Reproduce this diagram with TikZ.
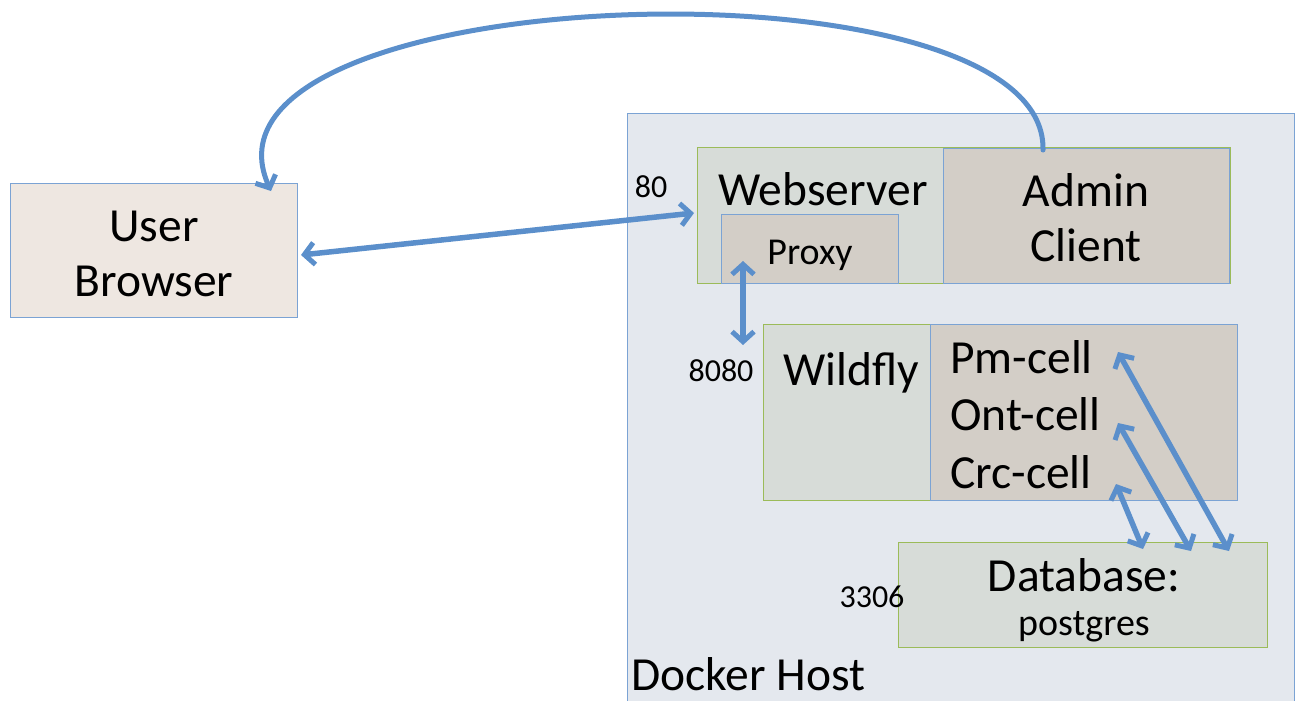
\documentclass[tikz,border=0pt]{standalone}
\usepackage{fontspec}
\setmainfont{Carlito}
\usetikzlibrary{arrows.meta,calc}
\definecolor{browserfill}{HTML}{EEE7E1}
\definecolor{dockerfill}{HTML}{E4E8EE}
\definecolor{greenfill}{HTML}{D7DCD8}
\definecolor{taupefill}{HTML}{D3CEC7}
\definecolor{blueline}{HTML}{7BA3D4}
\definecolor{greenline}{HTML}{9BBB59}
\definecolor{arrowblue}{HTML}{5B8FCB}
\tikzset{
  bluebox/.style={draw=blueline, line width=1pt},
  greenbox/.style={draw=greenline, line width=1pt, fill=greenfill},
  tip/.tip={Straight Barb[length=10pt,width=22pt,line width=5pt]},
  link/.style={draw=arrowblue, line width=5.5pt, line cap=round, tip-tip},
  onelink/.style={draw=arrowblue, line width=5pt, line cap=round, -tip},
  big/.style={font=\fontsize{47.5}{55}\selectfont, inner sep=0pt},
  small/.style={font=\fontsize{38}{44}\selectfont, inner sep=0pt},
  port/.style={font=\fontsize{32}{36}\selectfont, inner sep=0pt},
}
\begin{document}
\begin{tikzpicture}[x=1pt,y=-1pt]
\useasboundingbox (0,0) rectangle (1295,701);
% docker host
\path[bluebox, fill=dockerfill] (627,113) rectangle (1294,702);
\node[big, anchor=base west] (docker) at (631,690) {Docker Host};
% browser
\path[bluebox, fill=browserfill] (10,183) rectangle (297,317);
\node[big, anchor=base] (browsertxt1) at (154,241) {User};
\node[big, anchor=base] (browsertxt2) at (154,296) {Browser};
% webserver
\path[greenbox] (697,147) rectangle (1230,283);
\node[big, anchor=base] (webtxt) at (823,205) {Webserver};
% admin client
\path[bluebox, fill=taupefill] (943,148) rectangle (1229,283);
\node[big, anchor=base] (admintxt1) at (1086,206) {Admin};
\node[big, anchor=base] (admintxt2) at (1086,261) {Client};
% proxy
\path[bluebox, fill=taupefill] (721,214) rectangle (898,283);
\node[small, anchor=base] (proxytxt) at (810,264) {Proxy};
% wildfly
\path[greenbox] (763,324) rectangle (1237,500);
\node[big, anchor=base] (wildtxt) at (851,385) {Wildfly};
% cells
\path[bluebox, fill=taupefill] (930,324) rectangle (1237,500);
\node[big, anchor=base west] (pm) at (950,373) {Pm-cell};
\node[big, anchor=base west] (ont) at (950,430) {Ont-cell};
\node[big, anchor=base west] (crc) at (950,488) {Crc-cell};
% database
\path[greenbox] (898,542) rectangle (1267,647);
\node[big, anchor=base] (dbtxt) at (1084,591) {Database:};
\node[small, anchor=base] (pgtxt) at (1084,635) {postgres};
% ports
\node[port, anchor=base] (p80) at (651,197) {80};
\node[port, anchor=base] (p8080) at (721,381) {8080};
\node[port, anchor=base] (p3306) at (872,607) {3306};
% connectors
\coordinate (bwR) at (301,255);
\coordinate (webL) at (694,213);
\draw[link] (bwR) -- (webL);
\coordinate (pxB) at (743,261);
\coordinate (wfT) at (743,345);
\draw[link] (pxB) -- (wfT);
\coordinate (pmE) at (1118,352);
\coordinate (ontE) at (1118,423);
\coordinate (crcE) at (1116,484);
\coordinate (dbA) at (1143,549);
\coordinate (dbB) at (1191,551);
\coordinate (dbC) at (1229,551);
\draw[link] (crcE) -- (dbA);
\draw[link] (ontE) -- (dbB);
\draw[link] (pmE) -- (dbC);
\coordinate (adminTop) at (1043,150);
\coordinate (browserTop) at (271,191);
\draw[onelink] (adminTop) .. controls (1048,-50) and (175,-22) .. (browserTop);
\end{tikzpicture}
\end{document}
